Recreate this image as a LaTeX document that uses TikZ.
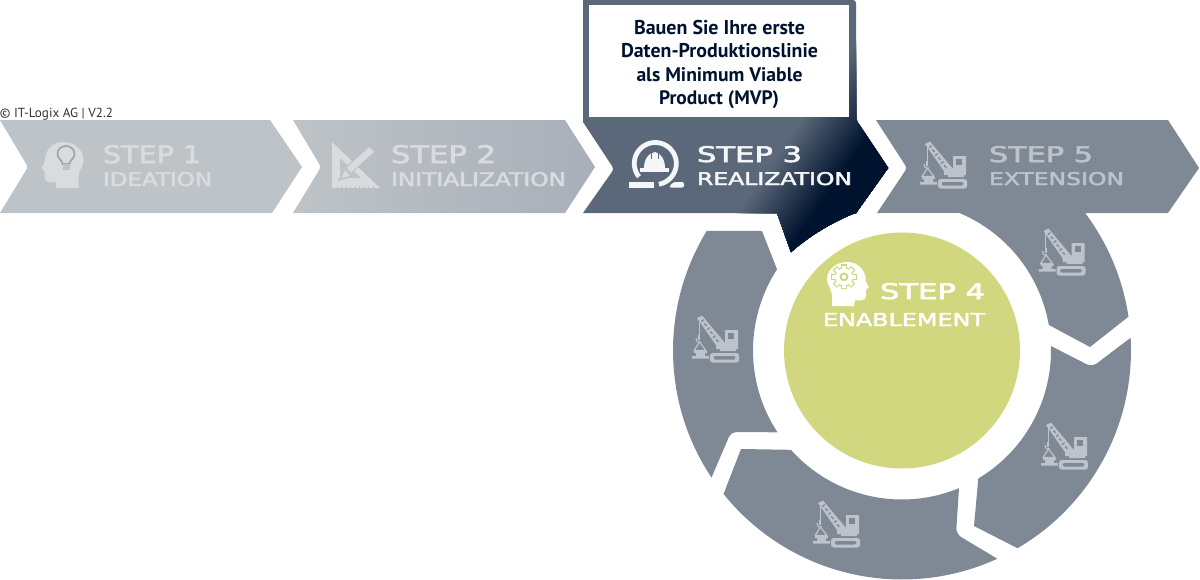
\documentclass[tikz,border=0pt]{standalone}
\usepackage{fontspec}
\usepackage{graphicx}
\newfontfamily\stepfont{DejaVu Sans}[FakeBold=2.4]
\newfontfamily\boxfont{PT Sans}
\definecolor{slate}{HTML}{5B6879}
\definecolor{navy}{HTML}{00132E}
\definecolor{seg}{HTML}{7F8995}
\definecolor{pale}{HTML}{BEC3C7}
\definecolor{paleb}{HTML}{A9AFB9}
\definecolor{palet}{HTML}{D9DCDF}
\definecolor{segt}{HTML}{BEC3CB}
\definecolor{lime}{HTML}{D1D77F}
\colorlet{pure}{white!94!slate}
\newcommand\fitbox[3]{\resizebox{\dimexpr#1pt/2\relax}{\dimexpr#2pt/2\relax}{\stepfont #3}}
\newcommand\boxline[1]{\resizebox{\dimexpr#1pt/2\relax}{!}}
\tikzset{
  txt/.style={inner sep=0pt,outer sep=0pt,anchor=base west},
  boxtxt/.style={inner sep=0pt,outer sep=0pt,anchor=base,text=navy}
}
\def\cx{902}\def\cy{350.5}
% arc on screen, radius, from, to
\newcommand\ringarc[3]{-- plot[domain=#2:#3,samples=50,variable=\a] ({\cx+#1*cos(\a)},{\cy+#1*sin(\a)})}
\newcommand\crane[3]{%
\begin{scope}[shift={(#1,#2)},line cap=butt]
 \fill[segt] (5,2)--(10,-.5)--(33,27)--(26,32)--cycle;
 \foreach \t/\o in {.12/1,.26/-1,.40/1,.54/-1,.68/1,.82/-1}{
   \draw[#3,line width=.65pt] ({8+\t*21-1.2},{1.2+\t*28.5+\o*1.1}) -- ({8+\t*21+1.2},{1.2+\t*28.5-\o*1.1});}
 \draw[segt,line width=.45pt] (7,2)--(7,20);
 \draw[segt,line width=1pt] (7,19)--(7,24);
 \draw[segt,line width=.6pt] (4,22) .. controls (4,27) and (9,27) .. (8,25);
 \draw[segt,line width=.6pt,line join=round] (7.5,26)--(2,34.5)--(14,34.5)--cycle;
 \fill[segt] (2,35)rectangle(15,37.2) (4,37)rectangle(13,40.3) (0,40)rectangle(17,42.5);
 \fill[segt] (24,27)rectangle(46,33) (33,14)rectangle(46,28) (28,32)rectangle(44,35.2);
 \fill[#3] (36,17)rectangle(42,23);
 \fill[segt,rounded corners=1.3pt] (18,37)rectangle(47,46.5);
 \fill[#3,rounded corners=.8pt] (21.5,40)rectangle(43.5,43.5);
\end{scope}}
\newcommand\headpath{(22,0) .. controls (33,0) and (42,8) .. (42,18) .. controls (42,24) and (38,27) .. (37,34) -- (37,46) -- (15,46) -- (14,40) -- (7,40) .. controls (4,40) and (3,37) .. (3,34) -- (3,29) -- (0,26) -- (3,21) .. controls (3,8) and (11,0) .. (22,0) -- cycle}
\begin{document}
\begin{tikzpicture}[x=0.5pt,y=-0.5pt]
\path[use as bounding box,fill=white] (0,0) rectangle (1200,579);

% step 1, 2
\fill[pale] (0,120)--(270,120)--(302,167)--(272,213)--(0,213) [rounded corners=1.5pt]--(28,167)[sharp corners]--cycle;
\shade[left color=pale,middle color=pale,right color=paleb] (293,120)--(565,120)--(595,167)--(565,213)--(293,213) [rounded corners=1.5pt]--(321,167)[sharp corners]--cycle;

% step 3 with gradient
\begin{scope}
 \clip[rounded corners=1.5pt] (583,0)--(856,0)--(856,120)[sharp corners]--(888,168)--(856,213)--(855,213) .. controls (830,223) and (808,237) .. (791,252)--(777,213)--(583,213)[rounded corners=1.5pt]--(614,169)[sharp corners]--(583,122)--cycle;
 \fill[slate] (560,-10) rectangle (900,260);
 \foreach \i in {0,...,32}{
   \pgfmathsetmacro\s{-28+\i*2}
   \pgfmathsetmacro\m{100-100*(\i/32)}
   \colorlet{stripe}{slate!\m!navy}
   \fill[stripe] ({800+\s*.82-400*.57},{170+\s*.57+400*.82})
     -- ({800+\s*.82+400*.57},{170+\s*.57-400*.82})
     -- ({800+(\s+500)*.82+400*.57},{170+(\s+500)*.57-400*.82})
     -- ({800+(\s+500)*.82-400*.57},{170+(\s+500)*.57+400*.82})--cycle;
 }
\end{scope}
\fill[white] (589,5) rectangle (849,117);

% step 5 + top-right segment
\fill[seg] (876,120)--(1168,120)--(1199,168)--(1168,213)--(1084,213) \ringarc{229}{-37.1}{-8.5} --(1090,347) \ringarc{149}{-9.9}{-67.5} --(877,213)[rounded corners=1.5pt]--(907,168)[sharp corners]--cycle;
% left segment
\fill[seg] (762,231) \ringarc{149}{213}{146.7} [rounded corners=2.5pt]--(731,432)[sharp corners] \ringarc{229}{146.3}{211.5} --cycle;
% bottom segment
\fill[seg] (741,449) \ringarc{149}{138.2}{67.5} [rounded corners=3pt]--(956,534)[sharp corners] \ringarc{229}{65.4}{141.2} --cycle;
% right segment
\fill[seg] (1051,346) [rounded corners=3pt]--(1092,367)[sharp corners] \ringarc{229}{-3.2}{59.7} --(974,526) \ringarc{149}{59.2}{-1.7} --cycle;
% centre
\fill[lime] (\cx,\cy) circle[radius=118];

% box text
\node[boxtxt] (l1) at (719.5,34) {\boxline{171}{\boxfont\bfseries Bauen Sie Ihre erste}};
\node[boxtxt] (l2) at (719.5,57.5) {\boxline{197}{\boxfont\bfseries Daten-Produktionslinie}};
\node[boxtxt] (l3) at (719.5,81) {\boxline{166}{\boxfont\bfseries als Minimum Viable}};
\node[boxtxt] (l4) at (719,104) {\boxline{120}{\boxfont\bfseries Product (MVP)}};
\node[txt,text=black!80] (copy) at (0,117) {\boxline{113}{\boxfont © IT-Logix AG | V2.2}};

% step labels
\node[txt,text=palet] (s1) at (103,163) {\fitbox{98}{18}{STEP 1}};
\node[txt,text=palet] (s1b) at (103,186) {\fitbox{109}{14}{IDEATION}};
\node[txt,text=palet] (s2) at (391,163) {\fitbox{105}{18}{STEP 2}};
\node[txt,text=palet] (s2b) at (391,186) {\fitbox{175}{14}{INITIALIZATION}};
\node[txt,text=pure] (s3) at (697,162) {\fitbox{105}{16}{STEP 3}};
\node[txt,text=pure] (s3b) at (697,185) {\fitbox{155}{13}{REALIZATION}};
\node[txt,text=segt] (s5) at (989,162) {\fitbox{104}{16}{STEP 5}};
\node[txt,text=segt] (s5b) at (989,185) {\fitbox{135}{13}{EXTENSION}};
\node[txt,text=white] (s4) at (880,299) {\fitbox{105}{16}{STEP 4}};
\node[txt,text=white] (s4b) at (823,326) {\fitbox{162}{13}{ENABLEMENT}};

% icon step 1: head with bulb
\begin{scope}[shift={(41.5,142)}]
 \fill[palet] \headpath;
 \draw[pale!85!black,line width=.9pt] (21,22) .. controls (21,18) and (16,17) .. (16,12) .. controls (16,7) and (20,4) .. (24.5,4) .. controls (29,4) and (33,7) .. (33,12) .. controls (33,17) and (28,18) .. (28,22) -- cycle;
 \fill[pale] (21,22) rectangle (28,28);
\end{scope}

% icon step 2: set square and pencil
\fill[palet] (332,142)--(380,188)--(332,188)--cycle;
\fill[pale] (340,158)--(361,178)--(340,178)--cycle;
\foreach \k in {0,...,8}{\draw[pale,line width=.4pt] ({337+\k*4.5},185.5)--({337+\k*4.5},188);}
\draw[pale,line width=4.4pt] (349,170)--(372,149);
\draw[palet,line width=3.2pt] (349,170)--(371.5,149.5);
\fill[pale] (338,181)--(352,177)--(344,168)--cycle;
\fill[palet] (341,178.5)--(350,175.5)--(345,170.5)--cycle;

% icon step 3: helmet in a ring
\draw[pure,line width=2.4pt] plot[domain=141:440,samples=60,variable=\a] ({655.3+21*cos(\a)},{163.5+21*sin(\a)});
\fill[pure] (644,168) .. controls (644,160) and (648,153) .. (655,152) .. controls (661,153) and (665,160) .. (665,168)--cycle;
\draw[slate,line width=.5pt] (651,152)--(651,159) (658.5,152)--(658.5,159);
\fill[pure] (640,168) rectangle (669,172);
\fill[pure] (629,182) rectangle (654,188);
\fill[pure,rounded corners=1pt] (673,182)--(684,182)--(684,187.5)--(669,187.5)--cycle;

% icon step 4: head with gear
\begin{scope}[shift={(869,262)},xscale=-1,yscale=.96]
 \fill[white] \headpath;
 \begin{scope}[shift={(25,15.5)}]
  \foreach \a in {0,45,...,315}{\fill[lime,rotate=\a] (-3,-13) rectangle (3,0);}
  \fill[lime] (0,0) circle[radius=10];
  \foreach \a in {0,45,...,315}{\fill[white,rotate=\a] (-1.8,-11.7) rectangle (1.8,0);}
  \fill[white] (0,0) circle[radius=8.7];
  \fill[lime] (0,0) circle[radius=4.5];
  \fill[white] (0,0) circle[radius=2.2];
 \end{scope}
\end{scope}

% cranes
\crane{920}{142}{seg}
\crane{1038.5}{229}{seg}
\crane{692}{316}{seg}
\crane{1041}{423}{seg}
\crane{813}{501}{seg}
\end{tikzpicture}
\end{document}
